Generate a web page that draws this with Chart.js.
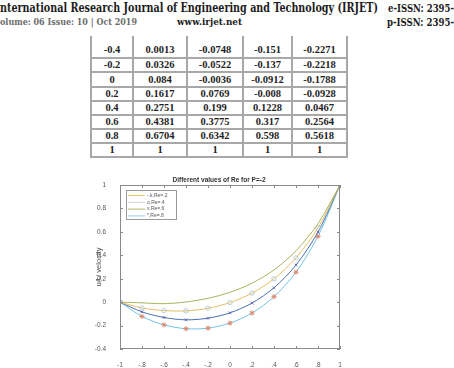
<!DOCTYPE html>
<html>
<head>
<meta charset="utf-8">
<script src="https://cdn.jsdelivr.net/npm/chart.js@4.4.0/dist/chart.umd.min.js"></script>
<style>
  html, body { margin: 0; padding: 0; background: #fff; width: 454px; height: 368px; overflow: hidden; }
  .hd { position: absolute; white-space: nowrap; font-family: "DejaVu Serif", serif; font-weight: bold; line-height: 1; transform-origin: 0 0; color: #1c1c1c; }
  .cell { position: absolute; font-family: "Liberation Serif", serif; font-weight: bold; font-size: 10.5px; text-align: center; color: #1e1e1e; }
  .ln { position: absolute; background: #a8a8a8; }
  #wrap { position: absolute; left: 80px; top: 168px; width: 290px; height: 200px; }
</style>
</head>
<body>
<div class="hd" id="h1" style="top:1.6px; font-size:12.5px;">nternational Research Journal of Engineering and Technology (IRJET)</div>
<div class="hd" id="h2" style="top:3.3px; font-size:10.5px;">e-ISSN: 2395-</div>
<div class="hd" id="h3" style="top:17.8px; font-size:9px; color:#6c6c6c;">olume: 06 Issue: 10 | Oct 2019</div>
<div class="hd" id="h4" style="top:17.8px; font-size:9px;">www.irjet.net</div>
<div class="hd" id="h5" style="top:16.8px; font-size:10.5px;">p-ISSN: 2395-</div>
<div id="table"></div>
<div id="wrap"><canvas id="chart"></canvas></div>
<script>
// y/h positions (first column of the table, x axis of the plot)
const yPos = [-1, -0.8, -0.6, -0.4, -0.2, 0, 0.2, 0.4, 0.6, 0.8, 1];
// velocity for each Re (first three rows, the rest from the table)
const re2 = [0, -0.006, -0.013, 0.0013, 0.0326, 0.084, 0.1617, 0.2751, 0.4381, 0.6704, 1];
const re4 = [0, -0.05, -0.072, -0.0748, -0.0522, -0.0036, 0.0769, 0.199, 0.3775, 0.6342, 1];
const re6 = [0, -0.083, -0.131, -0.151, -0.137, -0.0912, -0.008, 0.1228, 0.317, 0.598, 1];
const re8 = [0, -0.122, -0.194, -0.2271, -0.2218, -0.1788, -0.0928, 0.0467, 0.2564, 0.5618, 1];
const seriesNames = ['-.k,Re=.2', 'o,Re=.4', 'x,Re=.6', '*,Re=.8'];
const xTickLabels = ['-1', '-.8', '-.6', '-.4', '-.2', '0', '.2', '.4', '.6', '.8', '1'];
const yTickLabels = ['-0.4', '-0.2', '0', '0.2', '0.4', '0.6', '0.8', '1'];
const titleText = 'Different values of Re for P=-2';
const yTitle = 'u/U velocity';
const firstTableRow = 3;

// header texts squeezed to the widths seen in the scan
function fitText(id, left, width) {
    const el = document.getElementById(id);
    el.style.left = left + 'px';
    const w = el.getBoundingClientRect().width;
    el.style.transform = 'scaleX(' + (width / w) + ')';
}
fitText('h1', 0, 378);
fitText('h2', 388, 66);
fitText('h3', 0, 137);
fitText('h4', 177, 65);
fitText('h5', 387, 67);

// table (rows -0.4 .. 1)
const colX = [91, 133, 187, 243, 292, 347];
const rowY = [58, 72, 87, 101, 115, 129, 143, 157];
const table = document.getElementById('table');
function addDiv(cls, l, t, w, h, text) {
    const d = document.createElement('div');
    d.className = cls;
    d.style.left = l + 'px';
    d.style.top = t + 'px';
    d.style.width = w + 'px';
    d.style.height = h + 'px';
    if (text !== undefined) {
        d.style.lineHeight = h + 'px';
        d.textContent = text;
    }
    table.appendChild(d);
}
colX.forEach(x => addDiv('ln', x - 1, 36, 2, 122));
rowY.forEach(y => addDiv('ln', colX[0] - 1, y - 1, colX[5] - colX[0] + 2, 2));
const cols = [yPos, re2, re4, re6, re8];
for (let r = firstTableRow; r < yPos.length; r++) {
    const i = r - firstTableRow;
    const top = i === 0 ? 42 : rowY[i - 1] + 1;
    const bottom = rowY[i] - 1;
    cols.forEach((col, c) => {
        addDiv('cell', colX[c] + 1, top, colX[c + 1] - colX[c] - 2, bottom - top, String(col[r]));
    });
}

function pts(values) {
    return yPos.map((x, i) => ({ x: x, y: values[i] }));
}

const legendColors = ['#e8c66e', '#d2d2d2', '#b3b96a', '#98d0ea'];

const matlabBox = {
    id: 'matlabBox',
    afterDraw(chart) {
        const { ctx, chartArea: a, scales: { x, y } } = chart;
        ctx.save();
        ctx.strokeStyle = '#8a8a8a';
        ctx.lineWidth = 1;
        ctx.strokeRect(a.left + 0.5, a.top + 0.5, a.right - a.left - 1, a.bottom - a.top - 1);
        ctx.beginPath();
        x.ticks.forEach(t => {
            const px = Math.round(x.getPixelForValue(t.value)) + 0.5;
            ctx.moveTo(px, a.bottom); ctx.lineTo(px, a.bottom - 3);
            ctx.moveTo(px, a.top); ctx.lineTo(px, a.top + 3);
        });
        y.ticks.forEach(t => {
            const py = Math.round(y.getPixelForValue(t.value)) + 0.5;
            ctx.moveTo(a.left, py); ctx.lineTo(a.left + 3, py);
            ctx.moveTo(a.right, py); ctx.lineTo(a.right - 3, py);
        });
        ctx.stroke();

        // title
        ctx.font = 'bold 6.5px "Liberation Sans", Arial, sans-serif';
        ctx.fillStyle = '#333';
        ctx.textAlign = 'center';
        ctx.textBaseline = 'middle';
        ctx.fillText(titleText, a.left + (a.right - a.left) * 0.45, a.top - 5);

        // legend box in the upper left corner
        const lx = a.left + 6, ly = a.top + 5, lw = 50, lh = 29;
        ctx.fillStyle = '#fff';
        ctx.fillRect(lx, ly, lw, lh);
        ctx.strokeStyle = '#9a9a9a';
        ctx.strokeRect(lx + 0.5, ly + 0.5, lw, lh);
        ctx.font = '5px "Liberation Sans", Arial, sans-serif';
        ctx.textAlign = 'left';
        seriesNames.forEach((name, i) => {
            const ry = ly + 5.5 + i * 6.8;
            ctx.strokeStyle = legendColors[i];
            ctx.beginPath();
            ctx.moveTo(lx + 2, ry); ctx.lineTo(lx + 19, ry);
            ctx.stroke();
            ctx.fillStyle = '#555';
            ctx.fillText(name, lx + 21, ry);
        });
        ctx.restore();
    }
};

new Chart(document.getElementById('chart'), {
    type: 'line',
    data: {
        datasets: [
            { label: seriesNames[0], data: pts(re2), borderColor: '#a9b45e', borderWidth: 1, pointRadius: 0, tension: 0.3 },
            { label: seriesNames[1], data: pts(re4), borderColor: '#e6be63', borderWidth: 1, pointStyle: 'circle', pointRadius: 2.2, pointBorderColor: '#a5c6d4', pointBackgroundColor: 'rgba(0,0,0,0)', pointBorderWidth: 0.8, tension: 0.3 },
            { label: seriesNames[2], data: pts(re6), borderColor: '#4a6fb5', borderWidth: 1, pointStyle: 'crossRot', pointRadius: 2, pointBorderColor: '#5a5fa8', pointBorderWidth: 0.8, tension: 0.3 },
            { label: seriesNames[3], data: pts(re8), borderColor: '#72c2e3', borderWidth: 1, pointStyle: 'star', pointRadius: 2.6, pointBorderColor: '#d9866a', pointBorderWidth: 1, tension: 0.3 }
        ]
    },
    options: {
        responsive: true,
        maintainAspectRatio: false,
        animation: false,
        layout: { padding: { top: 17, right: 30, left: 0, bottom: 0 } },
        plugins: { legend: { display: false }, tooltip: { enabled: false } },
        scales: {
            x: {
                type: 'linear', min: -1, max: 1,
                grid: { display: false }, border: { display: false },
                ticks: { stepSize: 0.2, padding: 4, color: '#555', font: { size: 6.5, family: '"Liberation Sans", Arial, sans-serif' },
                    callback: (v, i) => xTickLabels[i], maxRotation: 0, autoSkip: false },
                afterFit: s => { s.height = 19; }
            },
            y: {
                min: -0.4, max: 1,
                grid: { display: false }, border: { display: false },
                ticks: { stepSize: 0.2, padding: 6, color: '#555', font: { size: 6.5, family: '"Liberation Sans", Arial, sans-serif' },
                    callback: (v, i) => yTickLabels[i], autoSkip: false },
                title: { display: true, text: yTitle, color: '#444', font: { size: 7.5, family: '"Liberation Sans", Arial, sans-serif' }, padding: { top: 14, bottom: 0 } },
                afterFit: s => { s.width = 40; }
            }
        }
    },
    plugins: [matlabBox]
});
</script>
</body>
</html>
